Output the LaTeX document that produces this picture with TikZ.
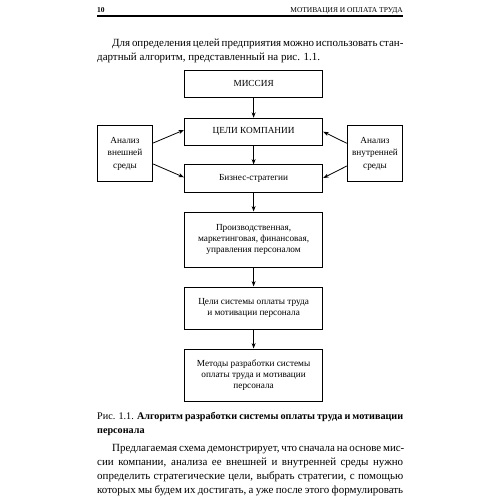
\documentclass[tikz,border=0pt]{standalone}
\usepackage{fontspec}
\setmainfont{Liberation Serif}
\usetikzlibrary{arrows.meta}
\tikzset{
  box/.style={draw, line width=1bp, inner sep=0pt, align=center, font=\fontsize{9.3}{11}\selectfont},
  arr/.style={-{Stealth[length=5.5bp,width=4bp]}, line width=0.8bp},
  txt/.style={inner sep=0pt, anchor=base west, font=\fontsize{11}{14}\selectfont},
  captxt/.style={inner sep=0pt, anchor=base west, font=\fontsize{10.2}{14}\selectfont},
}
\begin{document}
\begin{tikzpicture}[x=1bp,y=-1bp]
\useasboundingbox (0,0) rectangle (500,500);
\fill[white] (0,0) rectangle (500,500);
% header
\node[inner sep=0pt, anchor=base west, font=\fontsize{7.5}{9}\selectfont\bfseries] (pg) at (97,13) {10};
\node[inner sep=0pt, anchor=base east, font=\fontsize{7.5}{9}\selectfont] (hd) at (403,13) {МОТИВАЦИЯ И ОПЛАТА ТРУДА};
\draw[line width=1.2bp] (97,16) -- (403,16);
% intro paragraph
\node[txt] (p1) at (112,47) {\makebox[291bp][s]{Для определения целей предприятия можно использовать стан-}};
\node[txt] (p2) at (97,61) {дартный алгоритм, представленный на рис. 1.1.};
% boxes
\node[box, minimum width=138.2bp, minimum height=26.8bp] (miss) at (253.6,83.9) {МИССИЯ};
\node[box, minimum width=138.2bp, minimum height=27.2bp] (goals) at (253.6,131.9) {ЦЕЛИ КОМПАНИИ};
\node[box, minimum width=138.2bp, minimum height=27bp] (biz) at (253.6,178.5) {Бизнес-стратегии};
\node[box, minimum width=138.2bp, minimum height=55bp] (prod) at (253.6,239.5) {Производственная,\\маркетинговая, финансовая,\\управления персоналом};
\node[box, minimum width=138.2bp, minimum height=42bp] (sys) at (253.6,308) {Цели системы оплаты труда\\и мотивации персонала};
\node[box, minimum width=138.2bp, minimum height=52bp] (meth) at (253.6,375) {Методы разработки системы\\оплаты труда и мотивации\\персонала};
\node[box, minimum width=55.4bp, minimum height=55bp, font=\fontsize{9.3}{12.5}\selectfont] (ext) at (125,153.5) {Анализ\\внешней\\среды};
\node[box, minimum width=55.4bp, minimum height=55bp, font=\fontsize{9.3}{12.5}\selectfont] (int) at (375,153.5) {Анализ\\внутренней\\среды};
% arrows
\draw[arr] (miss) -- (goals);
\draw[arr] (goals) -- (biz);
\draw[arr] (biz) -- (prod);
\draw[arr] (prod) -- (sys);
\draw[arr] (sys) -- (meth);
\draw[arr] ([yshift=10.5bp]ext.east) -- ([yshift=1.9bp]goals.west);
\draw[arr] ([yshift=-10.5bp]ext.east) -- ([yshift=1.2bp]biz.west);
\draw[arr] ([yshift=10.2bp]int.west) -- ([yshift=0.2bp]goals.east);
\draw[arr] ([yshift=-12.5bp]int.west) -- ([yshift=0.5bp]biz.east);
% caption
\node[captxt] (c1) at (97,419) {\makebox[306bp][s]{Рис. 1.1. \textbf{Алгоритм разработки системы оплаты труда и мотивации}}};
\node[captxt] (c2) at (97,433) {\textbf{персонала}};
% bottom paragraph
\node[txt] (b1) at (112,451) {\makebox[291bp][s]{Предлагаемая схема демонстрирует, что сначала на основе мис-}};
\node[txt] (b2) at (97,465) {\makebox[306bp][s]{сии компании, анализа ее внешней и внутренней среды нужно}};
\node[txt] (b3) at (97,479) {\makebox[306bp][s]{определить стратегические цели, выбрать стратегии, с помощью}};
\node[txt] (b4) at (97,493) {\makebox[306bp][s]{которых мы будем их достигать, а уже после этого формулировать}};
\end{tikzpicture}
\end{document}
